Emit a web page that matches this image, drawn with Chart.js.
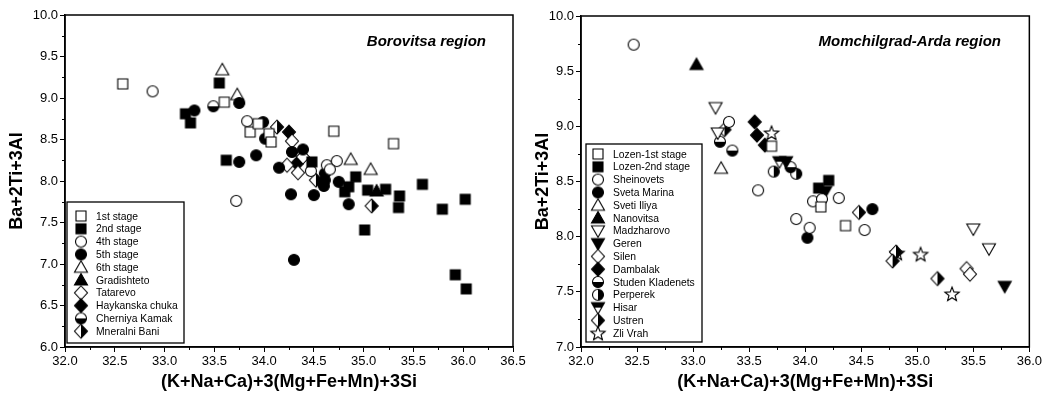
<!DOCTYPE html>
<html>
<head>
<meta charset="utf-8">
<script src="https://cdn.jsdelivr.net/npm/chart.js@4/dist/chart.umd.min.js"></script>
<style>
  html, body { margin: 0; padding: 0; background: #fff; }
  #wrap { position: relative; width: 1044px; height: 395px; }
  #wrap canvas { position: absolute; left: 0; top: 0; }
</style>
</head>
<body>
<div id="wrap">
  <canvas id="rightChart" width="1044" height="395"></canvas>
  <canvas id="leftChart" width="1044" height="395"></canvas>
</div>
<script>
// ---------- Borovitsa region : [x, y] pairs ----------
const stage1 = [[32.58,9.17],[33.60,8.95],[33.86,8.59],[33.94,8.69],[34.05,8.57],[34.07,8.47],[34.70,8.60],[35.30,8.45]];
const stage2 = [[33.55,9.18],[33.21,8.81],[33.26,8.70],[33.62,8.25],[34.48,8.23],[34.92,8.05],[34.85,7.93],[34.81,7.87],
                [35.04,7.89],[35.22,7.90],[35.36,7.82],[35.35,7.68],[35.59,7.96],[35.79,7.66],[36.02,7.78],[35.01,7.41],
                [35.92,6.87],[36.03,6.70]];
const stage4 = [[32.88,9.08],[33.83,8.72],[33.72,7.76],[34.47,8.12],[34.63,8.19],[34.73,8.24],[34.66,8.14]];
const stage5 = [[33.75,8.94],[33.30,8.85],[33.75,8.23],[33.92,8.31],[33.99,8.71],[34.01,8.51],[34.28,8.35],[34.39,8.38],
                [34.15,8.16],[34.61,8.09],[34.61,8.01],[34.60,7.94],[34.75,7.99],[34.27,7.84],[34.50,7.83],[34.85,7.72],
                [34.30,7.05]];
const stage6 = [[33.58,9.34],[33.73,9.04],[34.87,8.26],[35.07,8.14]];
const gradishteto = [[35.13,7.88]];
const tatarevo = [[34.28,8.48],[34.39,8.29],[34.23,8.19],[34.34,8.10]];
const haykanska = [[34.25,8.59],[34.33,8.21]];
const cherniya = [[33.49,8.90]];
const mineralni = [[34.13,8.65],[34.52,8.01],[35.08,7.70]];

// ---------- Momchilgrad-Arda region : [x, y] pairs ----------
const lozen1 = [[33.70,8.82],[34.14,8.27],[34.36,8.10]];
const lozen2 = [[34.21,8.51],[34.12,8.44]];
const sheinovets = [[32.47,9.74],[33.32,9.04],[33.58,8.42],[34.07,8.32],[34.15,8.34],[34.30,8.35],[33.92,8.16],[34.04,8.08],[34.53,8.06]];
const svetaMarina = [[34.02,7.99],[34.60,8.25]];
const svetiIliya = [[33.25,8.62]];
const nanovitsa = [[33.03,9.56]];
const madzharovo = [[33.20,9.17],[33.22,8.94],[35.50,8.07],[35.64,7.89]];
const geren = [[33.83,8.68],[34.18,8.41],[35.78,7.55]];
const silen = [[31.69,7.45],[35.44,7.71],[35.47,7.66]];
const dambalak = [[33.55,9.04],[33.57,8.92],[33.64,8.83]];
const studen = [[33.24,8.86],[33.35,8.78],[33.87,8.63]];
const perperek = [[33.72,8.59],[33.92,8.57]];
const hisar = [[33.77,8.68]];
const ustren = [[33.28,8.97],[34.48,8.22],[34.81,7.86],[34.78,7.78],[35.18,7.62]];
const zliVrah = [[33.70,8.94],[34.82,7.85],[35.03,7.84],[35.31,7.48]];

// ---------- axis ranges ----------
const xRangeLeft = [32.0, 36.5];
const yRangeLeft = [6.0, 10.0];
const xRangeRight = [32.0, 36.0];
const yRangeRight = [7.0, 10.0];
const tickStep = 0.5;

const FONT = "'Liberation Sans', Arial, Helvetica, sans-serif";

// ---------- marker glyphs ----------
function marker(shape, fill) {
  const S = 20, m = S / 2;
  const c = document.createElement('canvas');
  c.width = S; c.height = S;
  const g = c.getContext('2d');
  function path() {
    g.beginPath();
    if (shape === 'square') {
      g.rect(m - 5, m - 5, 10, 10);
    } else if (shape === 'circle') {
      g.arc(m, m, 5.5, 0, Math.PI * 2);
    } else if (shape === 'tri') {
      g.moveTo(m, m - 6.5); g.lineTo(m + 6.5, m + 5); g.lineTo(m - 6.5, m + 5); g.closePath();
    } else if (shape === 'tridown') {
      g.moveTo(m, m + 6.5); g.lineTo(m + 6.5, m - 5); g.lineTo(m - 6.5, m - 5); g.closePath();
    } else if (shape === 'diamond') {
      g.moveTo(m, m - 7); g.lineTo(m + 6.5, m); g.lineTo(m, m + 7); g.lineTo(m - 6.5, m); g.closePath();
    } else if (shape === 'star') {
      for (let i = 0; i < 10; i++) {
        const r = i % 2 === 0 ? 7.5 : 3.2;
        const a = -Math.PI / 2 + i * Math.PI / 5;
        const px = m + r * Math.cos(a), py = m + r * Math.sin(a) + 0.5;
        if (i === 0) g.moveTo(px, py); else g.lineTo(px, py);
      }
      g.closePath();
    }
  }
  g.lineWidth = 1.1;
  g.strokeStyle = '#000';
  path();
  g.fillStyle = fill === 'solid' ? '#000' : '#fff';
  g.fill();
  if (fill === 'bottom' || fill === 'right' || fill === 'top') {
    g.save();
    path();
    g.clip();
    g.fillStyle = '#000';
    if (fill === 'bottom') g.fillRect(0, m, S, m);
    if (fill === 'top') g.fillRect(0, 0, S, m);
    if (fill === 'right') g.fillRect(m, 0, m, S);
    g.restore();
  }
  path();
  g.stroke();
  return c;
}

const M = {
  sqOpen: marker('square', 'open'),
  sqSolid: marker('square', 'solid'),
  ciOpen: marker('circle', 'open'),
  ciSolid: marker('circle', 'solid'),
  ciBottom: marker('circle', 'bottom'),
  ciRight: marker('circle', 'right'),
  trOpen: marker('tri', 'open'),
  trSolid: marker('tri', 'solid'),
  tdOpen: marker('tridown', 'open'),
  tdSolid: marker('tridown', 'solid'),
  tdTop: marker('tridown', 'top'),
  diOpen: marker('diamond', 'open'),
  diSolid: marker('diamond', 'solid'),
  diRight: marker('diamond', 'right'),
  star: marker('star', 'open')
};

function series(label, pts, style) {
  return {
    label: label,
    data: pts.map(p => ({ x: p[0], y: p[1] })),
    pointStyle: style,
    pointRadius: 6,
    clip: false,
    showLine: false
  };
}

// frame, minor ticks, axis titles, region label and legend box
const decor = {
  id: 'decor',
  beforeDatasetsDraw(chart, args, o) {
    const { ctx, chartArea: a } = chart;
    const x = chart.scales.x, y = chart.scales.y;
    ctx.save();
    ctx.strokeStyle = '#000';
    ctx.lineWidth = 1.5;
    ctx.strokeRect(a.left, a.top, a.right - a.left, a.bottom - a.top);
    ctx.lineWidth = 1;
    ctx.beginPath();
    for (let v = x.min + tickStep / 2; v < x.max; v += tickStep) {
      const px = Math.round(x.getPixelForValue(v)) + 0.5;
      ctx.moveTo(px, a.bottom); ctx.lineTo(px, a.bottom + 3);
    }
    for (let v = y.min + tickStep / 2; v < y.max; v += tickStep) {
      const py = Math.round(y.getPixelForValue(v)) + 0.5;
      ctx.moveTo(a.left, py); ctx.lineTo(a.left - 3, py);
    }
    ctx.stroke();

    ctx.fillStyle = '#000';
    ctx.font = 'bold 18px ' + FONT;
    ctx.textAlign = 'center';
    ctx.textBaseline = 'middle';
    ctx.fillText(o.xTitle, (a.left + a.right) / 2, 382);
    ctx.save();
    ctx.translate(o.yTitleX, (a.top + a.bottom) / 2);
    ctx.rotate(-Math.PI / 2);
    ctx.fillText(o.yTitle, 0, 0);
    ctx.restore();

    ctx.font = 'italic bold 15px ' + FONT;
    ctx.textAlign = 'right';
    ctx.fillText(o.region, o.regionX, 42);
    ctx.restore();
  },
  afterDraw(chart, args, o) {
    const { ctx } = chart;
    const L = o.legend;
    ctx.save();
    ctx.fillStyle = '#fff';
    ctx.fillRect(L.x, L.y, L.w, L.h);
    ctx.strokeStyle = '#000';
    ctx.lineWidth = 1.3;
    ctx.strokeRect(L.x, L.y, L.w, L.h);
    ctx.font = '11.5px ' + FONT;
    ctx.fillStyle = '#000';
    ctx.textAlign = 'left';
    ctx.textBaseline = 'middle';
    chart.data.datasets.forEach((ds, i) => {
      const cy = L.first + i * L.step;
      const img = ds.pointStyle;
      ctx.drawImage(img, L.mx - img.width / 2, cy - img.height / 2);
      ctx.save();
      ctx.translate(L.tx, cy + 0.5);
      ctx.scale(0.9, 1);
      ctx.fillText(ds.label, 0, 0);
      ctx.restore();
    });
    ctx.restore();
  }
};

function scales(xr, yr, yWidth) {
  const common = {
    type: 'linear',
    border: { display: true, color: '#000', width: 1.5 },
    grid: { display: true, drawOnChartArea: false, drawTicks: true, tickLength: 5, color: '#000', lineWidth: 1 },
  };
  const tickOpts = { stepSize: tickStep, autoSkip: false, maxRotation: 0, color: '#000', padding: 2,
                     font: { family: FONT, size: 13 }, callback: v => Number(v).toFixed(1) };
  return {
    x: Object.assign({}, common, {
      min: xr[0], max: xr[1], ticks: tickOpts,
      afterFit: s => { s.height = 48; }
    }),
    y: Object.assign({}, common, {
      min: yr[0], max: yr[1], ticks: tickOpts,
      afterFit: s => { s.width = yWidth; }
    })
  };
}

Chart.defaults.font.family = FONT;

new Chart(document.getElementById('leftChart'), {
  type: 'scatter',
  data: {
    datasets: [
      series('1st stage', stage1, M.sqOpen),
      series('2nd stage', stage2, M.sqSolid),
      series('4th stage', stage4, M.ciOpen),
      series('5th stage', stage5, M.ciSolid),
      series('6th stage', stage6, M.trOpen),
      series('Gradishteto', gradishteto, M.trSolid),
      series('Tatarevo', tatarevo, M.diOpen),
      series('Haykanska chuka', haykanska, M.diSolid),
      series('Cherniya Kamak', cherniya, M.ciBottom),
      series('Mneralni Bani', mineralni, M.diRight)
    ]
  },
  options: {
    responsive: false, animation: false, devicePixelRatio: 1, events: [],
    layout: { padding: { left: 0, top: 15, right: 531, bottom: 0 } },
    scales: scales(xRangeLeft, yRangeLeft, 65),
    plugins: {
      legend: { display: false }, tooltip: { enabled: false },
      decor: {
        xTitle: '(K+Na+Ca)+3(Mg+Fe+Mn)+3Si', yTitle: 'Ba+2Ti+3Al', yTitleX: 17,
        region: 'Borovitsa region', regionX: 486,
        legend: { x: 67, y: 202, w: 117, h: 141, first: 216, step: 12.8, mx: 81, tx: 96 }
      }
    }
  },
  plugins: [decor]
});

new Chart(document.getElementById('rightChart'), {
  type: 'scatter',
  data: {
    datasets: [
      series('Lozen-1st stage', lozen1, M.sqOpen),
      series('Lozen-2nd stage', lozen2, M.sqSolid),
      series('Sheinovets', sheinovets, M.ciOpen),
      series('Sveta Marina', svetaMarina, M.ciSolid),
      series('Sveti Iliya', svetiIliya, M.trOpen),
      series('Nanovitsa', nanovitsa, M.trSolid),
      series('Madzharovo', madzharovo, M.tdOpen),
      series('Geren', geren, M.tdSolid),
      series('Silen', silen, M.diOpen),
      series('Dambalak', dambalak, M.diSolid),
      series('Studen Kladenets', studen, M.ciBottom),
      series('Perperek', perperek, M.ciRight),
      series('Hisar', hisar, M.tdTop),
      series('Ustren', ustren, M.diRight),
      series('Zli Vrah', zliVrah, M.star)
    ]
  },
  options: {
    responsive: false, animation: false, devicePixelRatio: 1, events: [],
    layout: { padding: { left: 522, top: 16, right: 13, bottom: 0 } },
    scales: scales(xRangeRight, yRangeRight, 59),
    plugins: {
      legend: { display: false }, tooltip: { enabled: false },
      decor: {
        xTitle: '(K+Na+Ca)+3(Mg+Fe+Mn)+3Si', yTitle: 'Ba+2Ti+3Al', yTitleX: 543,
        region: 'Momchilgrad-Arda region', regionX: 1001,
        legend: { x: 586, y: 144, w: 116, h: 198, first: 154, step: 12.8, mx: 598, tx: 613 }
      }
    }
  },
  plugins: [decor]
});
</script>
</body>
</html>
